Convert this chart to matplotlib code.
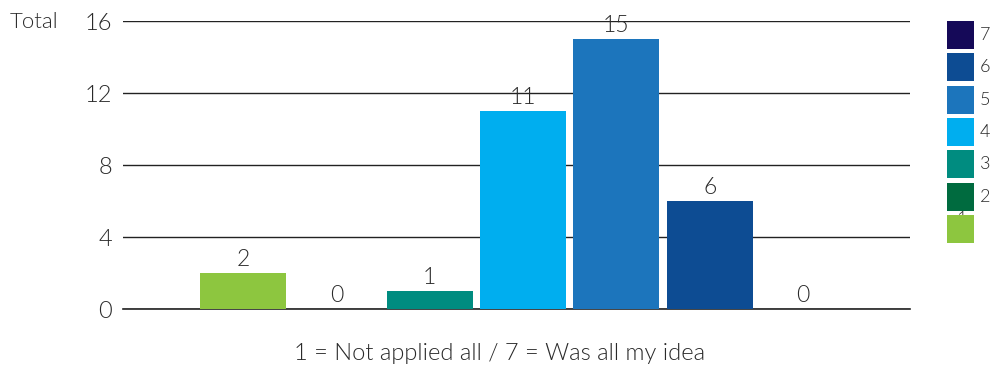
import matplotlib
matplotlib.use("Agg")
import matplotlib.pyplot as plt
from matplotlib.patches import Rectangle

categories = [1, 2, 3, 4, 5, 6, 7]
counts = [2, 0, 1, 11, 15, 6, 0]
colors = ["#8DC63F", "#006B3F", "#008C80", "#00AEEF", "#1C75BC", "#0D4C93", "#150958"]
yticks = [0, 4, 8, 12, 16]
xlabel = "1 = Not applied all / 7 = Was all my idea"

plt.rcParams["font.family"] = ["Lato", "DejaVu Sans"]
plt.rcParams["font.weight"] = 300
txt = "#2a2a2a"

fig = plt.figure(figsize=(9.96, 3.70), dpi=100)
ax = fig.add_axes([123 / 996, 1 - 309 / 370, (910 - 123) / 996, (309 - 21) / 370])

ax.bar(categories, counts, width=0.92, color=colors, zorder=3)
for c, v in zip(categories, counts):
    ax.text(c, v + 0.15, str(v), ha="center", va="bottom", fontsize=16.5, color=txt, zorder=4)

ax.set_xlim(-0.286, 8.147)
ax.set_ylim(0, 16)
ax.set_yticks(yticks)
ax.set_yticklabels([str(t) for t in yticks], fontsize=17, color=txt)
ax.yaxis.grid(True, color="#222222", linewidth=1.0, zorder=0)
ax.set_xticks([])
ax.tick_params(axis="y", length=0, pad=8)
for s in ["top", "right", "left"]:
    ax.spines[s].set_visible(False)
ax.spines["bottom"].set_color("#222222")
ax.spines["bottom"].set_linewidth(1.2)

fig.text(10 / 996, 1 - 22 / 370, "Total", fontsize=16, color=txt, va="center", ha="left")
fig.text(500 / 996, 1 - 353 / 370, xlabel, fontsize=17, color=txt, va="center", ha="center")

# legend drawn as swatches, top = 7 down to 1
W, H = 996, 370
top = 21
step = 32.3
for i, cat in enumerate(reversed(categories)):
    y0 = top + i * step
    col = colors[cat - 1]
    if cat == 1:
        # the last label sits under its swatch
        fig.text(961 / W, 1 - (y0 - 4) / H, str(cat), fontsize=13, color=txt,
                 va="top", ha="center", zorder=1)
    else:
        fig.text(980 / W, 1 - (y0 + 14) / H, str(cat), fontsize=13, color=txt,
                 va="center", ha="left", zorder=1)
    fig.patches.append(Rectangle((947 / W, 1 - (y0 + 28) / H), 27 / W, 28 / H,
                                 transform=fig.transFigure, facecolor=col,
                                 edgecolor="none", zorder=2))

fig.savefig("out.png", dpi=100)
